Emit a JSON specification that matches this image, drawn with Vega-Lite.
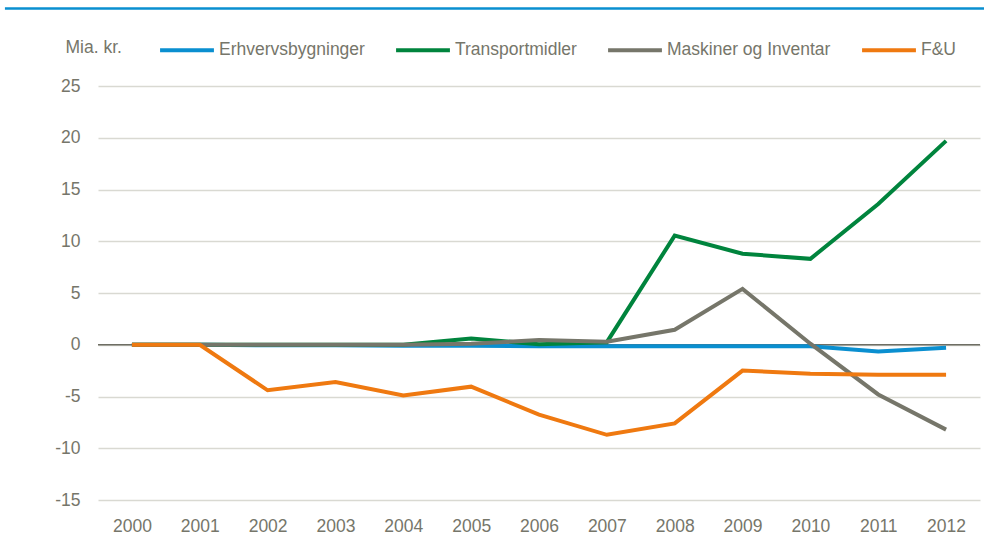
{
  "$schema": "https://vega.github.io/schema/vega-lite/v6.json",
  "width": 882,
  "height": 414,
  "autosize": {"type": "none"},
  "padding": {"left": 98, "top": 86, "right": 4, "bottom": 41},
  "background": "white",
  "config": {
    "view": {"stroke": null},
    "font": "Liberation Sans",
    "axis": {"labelFont": "Liberation Sans", "labelColor": "#76766a", "labelFontSize": 17.5, "domain": false, "ticks": false},
    "legend": {"labelFont": "Liberation Sans", "labelColor": "#76766a", "labelFontSize": 17.5, "labelLimit": 400}
  },
  "data": {"values": [
    {"year": "2000", "s": "Erhvervsbygninger", "v": 0},
    {"year": "2001", "s": "Erhvervsbygninger", "v": 0},
    {"year": "2002", "s": "Erhvervsbygninger", "v": -0.05},
    {"year": "2003", "s": "Erhvervsbygninger", "v": -0.05},
    {"year": "2004", "s": "Erhvervsbygninger", "v": -0.1},
    {"year": "2005", "s": "Erhvervsbygninger", "v": -0.1},
    {"year": "2006", "s": "Erhvervsbygninger", "v": -0.15},
    {"year": "2007", "s": "Erhvervsbygninger", "v": -0.15},
    {"year": "2008", "s": "Erhvervsbygninger", "v": -0.15},
    {"year": "2009", "s": "Erhvervsbygninger", "v": -0.15},
    {"year": "2010", "s": "Erhvervsbygninger", "v": -0.15},
    {"year": "2011", "s": "Erhvervsbygninger", "v": -0.65},
    {"year": "2012", "s": "Erhvervsbygninger", "v": -0.3},
    {"year": "2000", "s": "Transportmidler", "v": 0},
    {"year": "2001", "s": "Transportmidler", "v": 0},
    {"year": "2002", "s": "Transportmidler", "v": 0},
    {"year": "2003", "s": "Transportmidler", "v": 0},
    {"year": "2004", "s": "Transportmidler", "v": 0},
    {"year": "2005", "s": "Transportmidler", "v": 0.6},
    {"year": "2006", "s": "Transportmidler", "v": 0.05},
    {"year": "2007", "s": "Transportmidler", "v": 0.25},
    {"year": "2008", "s": "Transportmidler", "v": 10.55},
    {"year": "2009", "s": "Transportmidler", "v": 8.8},
    {"year": "2010", "s": "Transportmidler", "v": 8.3},
    {"year": "2011", "s": "Transportmidler", "v": 13.6},
    {"year": "2012", "s": "Transportmidler", "v": 19.7},
    {"year": "2000", "s": "Maskiner og Inventar", "v": 0},
    {"year": "2001", "s": "Maskiner og Inventar", "v": 0},
    {"year": "2002", "s": "Maskiner og Inventar", "v": 0},
    {"year": "2003", "s": "Maskiner og Inventar", "v": 0},
    {"year": "2004", "s": "Maskiner og Inventar", "v": 0},
    {"year": "2005", "s": "Maskiner og Inventar", "v": 0.1},
    {"year": "2006", "s": "Maskiner og Inventar", "v": 0.45},
    {"year": "2007", "s": "Maskiner og Inventar", "v": 0.3},
    {"year": "2008", "s": "Maskiner og Inventar", "v": 1.45},
    {"year": "2009", "s": "Maskiner og Inventar", "v": 5.4},
    {"year": "2010", "s": "Maskiner og Inventar", "v": 0.1},
    {"year": "2011", "s": "Maskiner og Inventar", "v": -4.8},
    {"year": "2012", "s": "Maskiner og Inventar", "v": -8.2},
    {"year": "2000", "s": "F&U", "v": 0},
    {"year": "2001", "s": "F&U", "v": 0},
    {"year": "2002", "s": "F&U", "v": -4.4},
    {"year": "2003", "s": "F&U", "v": -3.6},
    {"year": "2004", "s": "F&U", "v": -4.9},
    {"year": "2005", "s": "F&U", "v": -4.05},
    {"year": "2006", "s": "F&U", "v": -6.75},
    {"year": "2007", "s": "F&U", "v": -8.7},
    {"year": "2008", "s": "F&U", "v": -7.6},
    {"year": "2009", "s": "F&U", "v": -2.5},
    {"year": "2010", "s": "F&U", "v": -2.8},
    {"year": "2011", "s": "F&U", "v": -2.9},
    {"year": "2012", "s": "F&U", "v": -2.9}
  ]},
  "layer": [
    {
      "mark": {"type": "rule", "color": "#6e6e64", "strokeWidth": 1.5},
      "data": {"values": [{"z": 0}]},
      "encoding": {"y": {"field": "z", "type": "quantitative"}}
    },
    {
      "mark": {"type": "line", "strokeWidth": 4, "strokeJoin": "miter"},
      "encoding": {
        "x": {"field": "year", "type": "ordinal",
              "scale": {"type": "point", "padding": 0.5, "domain": ["2000", "2001", "2002", "2003", "2004", "2005", "2006", "2007", "2008", "2009", "2010", "2011", "2012"]},
              "axis": {"title": null, "labelAngle": 0, "labelAlign": "center", "labelPadding": 17, "grid": false}},
        "y": {"field": "v", "type": "quantitative", "scale": {"domain": [-15, 25], "nice": false},
              "axis": {"values": [-15, -10, -5, 0, 5, 10, 15, 20, 25], "labelExpr": "toString(datum.value)", "grid": true, "gridColor": "#d9d9d2", "gridWidth": 1.5,
                       "labelPadding": 18, "title": "Mia. kr.", "titleAngle": 0, "titleAlign": "left", "titleBaseline": "alphabetic",
                       "titleX": -33, "titleY": -34, "titleFont": "Liberation Sans", "titleFontSize": 17.5, "titleFontWeight": "normal", "titleColor": "#76766a"}},
        "color": {"field": "s", "type": "nominal",
                  "scale": {"domain": ["Erhvervsbygninger", "Transportmidler", "Maskiner og Inventar", "F&U"],
                            "range": ["#0a8fd0", "#00843d", "#76766a", "#ef7910"]},
                  "legend": {"title": null, "orient": "none", "legendX": 60, "legendY": -65, "direction": "horizontal", "columns": 4,
                             "symbolType": "stroke", "symbolStrokeWidth": 4, "symbolSize": 2900, "columnPadding": 23, "labelOffset": 3}}
      }
    },
    {
      "mark": {"type": "rule", "color": "#0a8fd0", "strokeWidth": 2.5, "clip": false, "xOffset": -127, "x2Offset": 38},
      "data": {"values": [{"t": 32.5, "a": "2000", "b": "2012"}]},
      "encoding": {
        "x": {"field": "a", "type": "ordinal"},
        "x2": {"field": "b"},
        "y": {"field": "t", "type": "quantitative"}
      }
    }
  ]
}
